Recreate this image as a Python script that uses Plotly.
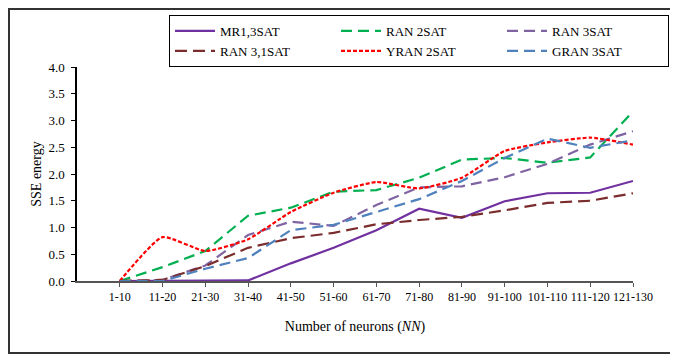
import plotly.graph_objects as go

neurons = ["1-10", "11-20", "21-30", "31-40", "41-50", "51-60", "61-70",
           "71-80", "81-90", "91-100", "101-110", "111-120", "121-130"]

mr1_3sat = [0, 0, 0, 0.01, 0.33, 0.62, 0.95, 1.35, 1.18, 1.49, 1.64, 1.65, 1.87]
ran_2sat = [0, 0.26, 0.56, 1.22, 1.37, 1.67, 1.70, 1.93, 2.27, 2.30, 2.21, 2.31, 3.17]
ran_3sat = [0, 0.02, 0.29, 0.86, 1.11, 1.03, 1.42, 1.75, 1.77, 1.94, 2.19, 2.55, 2.80]
ran_31sat = [0, 0.02, 0.28, 0.62, 0.80, 0.90, 1.06, 1.14, 1.20, 1.32, 1.46, 1.50, 1.64]
yran_2sat = [0, 0.82, 0.56, 0.78, 1.29, 1.65, 1.85, 1.73, 1.93, 2.43, 2.59, 2.68, 2.55]
gran_3sat = [0, 0, 0.23, 0.43, 0.95, 1.05, 1.29, 1.53, 1.87, 2.30, 2.66, 2.49, 2.63]

FONT = "Liberation Serif"

series = [
    ("MR1,3SAT", mr1_3sat, "#7030A0", "solid", "linear"),
    ("RAN 2SAT", ran_2sat, "#00B050", "11px,6px", "linear"),
    ("RAN 3SAT", ran_3sat, "#8064A2", "11px,6px", "linear"),
    ("RAN 3,1SAT", ran_31sat, "#7B2C2C", "12px,6px", "linear"),
    ("YRAN 2SAT", yran_2sat, "#FF0000", "4px,2px", "spline"),
    ("GRAN 3SAT", gran_3sat, "#4F81BD", "11px,6px", "linear"),
]

fig = go.Figure()
for name, vals, color, dash, shape in series:
    fig.add_trace(go.Scatter(
        x=neurons, y=vals, name=name, mode="lines",
        line=dict(color=color, width=2.2, dash=dash, shape=shape, smoothing=0.5),
    ))

# page has an 8px body margin, so everything is placed 8px up/left
L, T, W, H = 69, 59, 556, 214

fig.update_layout(
    width=678, height=363,
    margin=dict(l=L, r=678 - L - W, t=T, b=363 - T - H, autoexpand=False),
    paper_bgcolor="white", plot_bgcolor="white",
    font=dict(family=FONT, color="black", size=13),
    legend=dict(
        orientation="h", xref="container", yref="container",
        x=661 / 678, y=1 - 7 / 363,
        xanchor="right", yanchor="top",
        bordercolor="black", borderwidth=1,
        entrywidth=111, entrywidthmode="pixels",
        font=dict(family=FONT, size=13, color="black"),
        tracegroupgap=0, itemwidth=40,
    ),
    xaxis=dict(
        type="category", range=[-1, 12],
        showgrid=False, showline=True, linecolor="#555555", linewidth=1.5,
        ticks="outside", ticklen=4, tickcolor="#555555",
        tickfont=dict(family=FONT, size=12),
        title=dict(text="Number of neurons (<i>NN</i>)", standoff=18,
                   font=dict(family=FONT, size=14)),
    ),
    yaxis=dict(
        range=[0, 4], dtick=0.5, tickformat=".1f",
        showgrid=False, showline=True, linecolor="black", linewidth=1.5,
        ticks="outside", ticklen=4, tickcolor="black", ticklabelstandoff=4,
        tickfont=dict(family=FONT, size=13), zeroline=False,
        title=dict(text="SSE energy", standoff=4, font=dict(family=FONT, size=14)),
    ),
    yaxis2=dict(
        overlaying="y", range=[0, 4], dtick=0.5, showticklabels=False,
        ticks="inside", ticklen=4, tickcolor="black", showgrid=False,
        showline=False, zeroline=False,
    ),
    shapes=[dict(
        type="rect", xref="paper", yref="paper",
        x0=(1 - L) / W, x1=(663 - L) / W,
        y0=(T + H - 345) / H, y1=(T + H - 1) / H,
        line=dict(color="#333333", width=2),
    )],
)

fig.write_html("out.html")
